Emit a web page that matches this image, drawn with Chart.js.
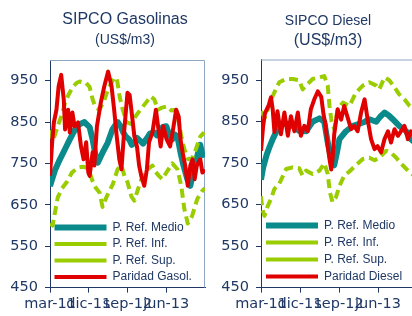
<!DOCTYPE html>
<html>
<head>
<meta charset="utf-8">
<script src="https://cdn.jsdelivr.net/npm/chart.js@4"></script>
<style>
  html, body { margin: 0; padding: 0; background: #fff; overflow: hidden; width: 412px; height: 316px; }
  #gas { position: absolute; left: 0; top: 0; }
  #dsl { position: absolute; left: 206px; top: 0; }
</style>
</head>
<body>
<canvas id="gas" width="250" height="316"></canvas>
<canvas id="dsl" width="244" height="316"></canvas>
<script>
// months since mar-11
const xTicks = [0, 9, 18, 27];
const xTickLabels = ['mar-11', 'dic-11', 'sep-12', 'jun-13'];
const yTicks = [450, 550, 650, 750, 850, 950];
const seriesNames = ['P. Ref. Medio', 'P. Ref. Inf.', 'P. Ref. Sup.'];

// SIPCO Gasolinas
const gasMedioX = [0,0.6,1.2,2.3,3.5,4.6,5.8,6.9,8.0,9.2,9.9,10.6,11.1,12.2,13.4,14.5,15.7,16.4,17.0,17.6,18.4,19.0,19.6,20.2,21.0,21.6,22.6,23.2,24.2,24.8,25.6,26.2,27.0,27.6,28.4,29.0,29.6,30.3,31.0,31.9,32.6,33.3,34.2,34.9,35.4,36];
const gasMedio = [695,715,735,760,785,808,832,845,850,838,808,768,752,776,800,832,850,840,825,815,808,795,800,812,804,798,812,822,825,818,832,838,840,822,808,820,815,777,745,712,696,736,768,795,770,775];
const gasInfX = [0,0.6,1.8,2.8,3.9,5.1,6.5,7.6,8.5,9.2,9.9,10.7,11.5,12.2,13.2,14.6,15.7,16.6,17.3,18.0,18.9,19.6,20.5,21.5,22.6,23.8,24.5,25.3,26.1,27.2,28.4,29.6,30.5,31.2,32.0,33.0,34.2,35.3,36];
const gasInf = [605,600,668,690,705,728,740,742,740,728,707,690,680,645,671,700,736,745,720,705,670,660,690,720,735,745,730,720,712,731,750,736,695,640,605,623,664,683,690];
const gasSupX = [0,0.7,1.8,2.8,3.5,4.4,5.3,6.2,6.9,7.7,8.3,9.2,9.9,10.6,11.5,12.5,13.5,14.8,15.5,16.2,16.9,17.8,18.9,19.8,21.0,22.3,23.4,24.2,25.1,26.0,27.2,28.2,29.3,29.9,30.5,31.2,32.1,33.0,33.9,34.9,35.8];
const gasSup = [830,805,840,870,897,918,935,945,948,946,945,935,905,885,880,900,930,955,957,910,880,850,845,863,880,897,912,905,880,885,888,878,880,850,815,785,760,762,785,815,825];
const gasParidadX = [0,0.5,0.9,1.5,2.0,2.6,3.2,3.5,4.2,4.6,5.2,5.7,6.5,7.2,7.8,8.4,8.9,9.2,9.9,10.3,10.9,11.8,12.6,13.5,14.3,14.9,15.5,16.1,16.6,17.2,18.0,18.5,18.9,19.6,20.2,20.7,21.2,21.9,22.5,23.0,23.8,24.6,25.1,25.7,26.3,27.1,27.9,28.7,29.3,29.9,30.3,30.8,31.4,32.0,32.6,33.1,33.6,34.1,34.9,35.4,35.9];
const gasParidad = [720,801,849,880,936,964,904,832,880,825,873,840,849,791,760,801,728,720,777,745,840,897,936,972,936,880,815,760,736,825,921,915,880,815,791,745,720,696,736,801,825,880,840,791,840,808,791,840,880,863,808,777,745,696,745,760,712,745,760,728,736];

// SIPCO Diesel
const dslMedioX = [0,0.5,1.3,2.0,2.7,3.8,4.6,5.8,7.3,8.8,10.4,11.9,13.5,14.6,15.4,16.2,16.9,17.5,18.1,19.6,21.2,22.7,24.0,25.0,26.6,27.5,28.5,29.5,30.4,31.9,33.5,34.6,35.5];
const dslMedio = [710,740,770,790,808,832,844,846,840,828,827,850,858,850,800,760,745,775,808,827,840,845,850,856,850,862,872,865,856,840,827,808,800];
const dslInfX = [0,0.3,0.8,1.5,2.3,3.1,4.2,5.8,7.3,8.8,9.6,10.4,11.9,13.5,14.6,15.4,15.9,16.5,17.3,18.1,19.2,20.4,21.9,23.5,25.0,26.2,27.3,28.9,30.0,31.2,32.7,34.3,35.4];
const dslInf = [670,640,623,645,664,688,700,736,740,738,720,732,724,732,750,724,680,656,668,695,720,730,745,760,763,757,763,780,775,763,745,728,720];
const dslSupX = [0,0.9,2.7,4.2,5.8,7.3,8.8,9.6,10.4,11.9,13.5,14.6,15.4,15.8,16.3,16.9,17.7,18.9,20.4,21.9,23.5,25.0,26.6,27.3,28.5,29.6,30.8,31.9,33.1,34.3,35.4];
const dslSup = [875,860,912,945,953,953,950,928,937,953,957,960,937,888,850,832,880,896,888,920,937,945,937,928,957,950,933,916,904,888,880];
const dslParidadX = [0,0.5,0.9,1.8,2.3,2.7,3.1,3.8,4.6,5.4,6.2,6.9,7.7,8.5,9.2,10.0,10.8,11.5,12.3,13.1,13.9,14.4,14.9,15.4,15.8,16.2,16.5,16.9,17.7,18.5,19.2,20.0,20.8,21.5,22.3,23.1,23.9,24.6,25.4,26.2,26.9,27.7,28.5,29.3,30.0,30.8,31.6,32.3,33.1,33.9,34.6,35.4];
const dslParidad = [780,840,870,890,909,880,825,875,820,872,816,863,827,872,816,840,827,880,904,923,910,870,840,791,760,735,760,820,880,855,888,860,832,840,827,872,904,856,808,784,791,776,808,827,800,832,816,827,840,808,827,815];

const navy = '#1f3864';
const teal = '#0a8a8a';
const lime = '#9acd00';
const red = '#e00000';
const tickFont = { family: "'DejaVu Sans', Verdana, sans-serif", size: 14.5 };
Chart.defaults.font.family = "'Liberation Sans', Arial, sans-serif";
Chart.defaults.color = navy;

function pts(xs, ys) {
  return xs.map((x, i) => ({ x, y: ys[i] }));
}

// top and right border of the plot, plus legend pinned to the plot's bottom-left
const framePlugin = {
  id: 'frame',
  afterLayout(chart) {
    const lg = chart.legend;
    if (lg) {
      lg.top = chart.chartArea.top;
      lg.bottom = chart.chartArea.bottom;
    }
  },
  beforeDatasetsDraw(chart) {
    const { ctx, chartArea: a } = chart;
    ctx.save();
    ctx.strokeStyle = '#8ea6c2';
    ctx.lineWidth = 1;
    ctx.beginPath();
    ctx.moveTo(a.left, a.top + 0.5);
    ctx.lineTo(a.right - 0.5, a.top + 0.5);
    ctx.lineTo(a.right - 0.5, a.bottom);
    ctx.stroke();
    ctx.restore();
  },
};

function buildChart(canvas, opts) {
  const datasets = [
    { label: seriesNames[0], data: pts(opts.medioX, opts.medio), borderColor: teal, backgroundColor: teal, borderWidth: 6, order: 3 },
    { label: seriesNames[1], data: pts(opts.infX, opts.inf), borderColor: lime, backgroundColor: lime, borderWidth: 4, borderDash: [9, 5], order: 2 },
    { label: seriesNames[2], data: pts(opts.supX, opts.sup), borderColor: lime, backgroundColor: lime, borderWidth: 4, borderDash: [9, 5], order: 2 },
    { label: opts.paridadLabel, data: pts(opts.paridadX, opts.paridad), borderColor: red, backgroundColor: red, borderWidth: 4, order: 1 },
  ];
  datasets.forEach((d) => {
    d.pointRadius = 0;
    d.tension = 0;
    d.fill = false;
    d.borderJoinStyle = 'round';
  });

  return new Chart(canvas.getContext('2d'), {
    type: 'line',
    data: { datasets },
    plugins: [framePlugin],
    options: {
      responsive: false,
      animation: false,
      plugins: {
        title: {
          display: true,
          text: opts.title,
          color: navy,
          font: { size: opts.titleSize, weight: 'normal' },
          padding: { top: opts.titleTop, bottom: 0 },
        },
        subtitle: {
          display: true,
          text: '(US$/m3)',
          color: navy,
          font: { size: opts.subSize },
          padding: { top: opts.subTop, bottom: opts.subBottom },
        },
        legend: {
          position: 'chartArea',
          align: 'end',
          labels: {
            usePointStyle: true,
            pointStyle: 'line',
            pointStyleWidth: 52,
            color: navy,
            font: { size: 12 },
            padding: opts.legendPad,
            sort: (a, b) => a.datasetIndex - b.datasetIndex,
          },
        },
        tooltip: { enabled: false },
      },
      scales: {
        x: {
          type: 'linear',
          min: 0,
          max: 36,
          afterBuildTicks: (scale) => { scale.ticks = xTicks.map((v) => ({ value: v })); },
          ticks: {
            autoSkip: false,
            maxRotation: 0,
            minRotation: 0,
            color: navy,
            font: tickFont,
            callback: (v) => xTickLabels[xTicks.indexOf(v)],
          },
          grid: { drawOnChartArea: false, drawTicks: true, tickLength: 5, color: navy },
          border: { display: true, color: navy },
        },
        y: {
          min: 450,
          max: 1000,
          afterBuildTicks: (scale) => { scale.ticks = yTicks.map((v) => ({ value: v })); },
          afterFit: (scale) => { scale.width = opts.yWidth; },
          ticks: { color: navy, font: tickFont, padding: 7 },
          grid: { drawOnChartArea: false, drawTicks: true, tickLength: 5, color: navy },
          border: { display: true, color: navy },
        },
        // empty strip on the right so the title stays centred on the whole canvas
        pad: {
          type: 'linear',
          position: 'right',
          ticks: { display: false },
          grid: { display: false, drawTicks: false },
          border: { display: false },
          afterFit: (scale) => { scale.width = opts.padRight; },
        },
      },
    },
  });
}

buildChart(document.getElementById('gas'), {
  title: 'SIPCO Gasolinas', titleSize: 16, titleTop: 10,
  subSize: 14, subTop: 3, subBottom: 11, yWidth: 50, padRight: 45, legendPad: 4.5,
  medioX: gasMedioX, medio: gasMedio, infX: gasInfX, inf: gasInf, supX: gasSupX, sup: gasSup,
  paridadX: gasParidadX, paridad: gasParidad, paridadLabel: 'Paridad Gasol.',
});

buildChart(document.getElementById('dsl'), {
  title: 'SIPCO Diesel', titleSize: 14, titleTop: 13,
  subSize: 16, subTop: 1, subBottom: 9.5, yWidth: 55, padRight: 33, legendPad: 5,
  medioX: dslMedioX, medio: dslMedio, infX: dslInfX, inf: dslInf, supX: dslSupX, sup: dslSup,
  paridadX: dslParidadX, paridad: dslParidad, paridadLabel: 'Paridad Diesel',
});
</script>
</body>
</html>
